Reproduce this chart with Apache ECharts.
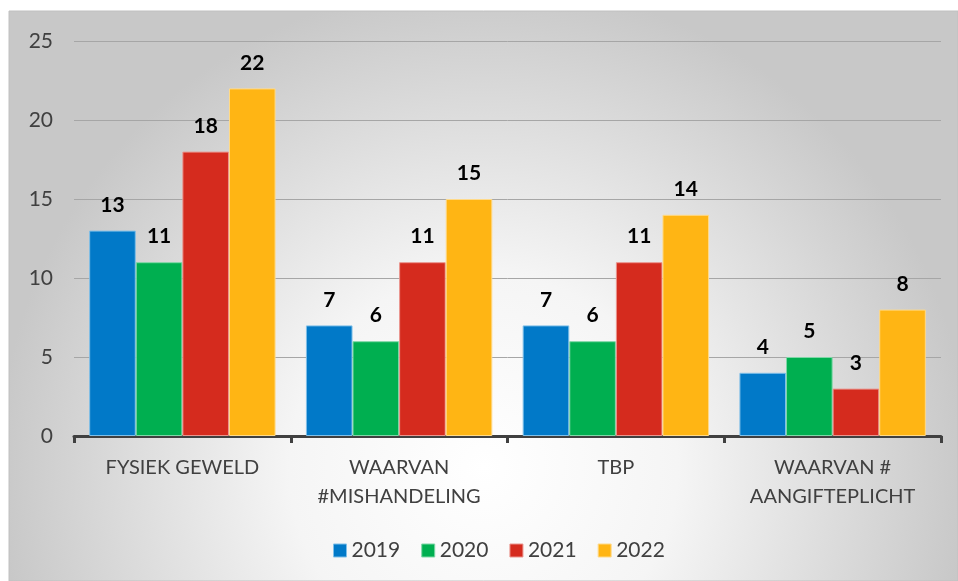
<!DOCTYPE html>
<html>
<head>
<meta charset="utf-8">
<script src="https://cdn.jsdelivr.net/npm/echarts@6/dist/echarts.min.js"></script>
<style>
html,body{margin:0;padding:0;background:#fff;}
#c{width:958px;height:581px;}
</style>
</head>
<body>
<div id="c"></div>
<script>
const categories = ['FYSIEK GEWELD', 'WAARVAN\n#MISHANDELING', 'TBP', 'WAARVAN #\nAANGIFTEPLICHT'];
const years = ['2019', '2020', '2021', '2022'];
const v2019 = [13, 7, 7, 4];
const v2020 = [11, 6, 6, 5];
const v2021 = [18, 11, 11, 3];
const v2022 = [22, 15, 14, 8];
const yTicks = [0, 5, 10, 15, 20, 25];

const colors = ['#0179C8', '#00AF50', '#D52B1E', '#FFB514'];
const borders = ['#7fbfe8', '#7fd7a7', '#ea958e', '#ffda89'];
const seriesData = [v2019, v2020, v2021, v2022];
const FONT = 'Lato, "Open Sans", sans-serif';

const chart = echarts.init(document.getElementById('c'), null, {renderer: 'canvas'});
chart.setOption({
  animation: false,
  textStyle: {fontFamily: FONT},
  graphic: [{
    type: 'rect', z: -10, silent: true,
    shape: {x: 9, y: 11, width: 949, height: 570},
    style: {
      fill: {
        type: 'radial', x: 0.5, y: 0.8, r: 0.85,
        colorStops: [{offset: 0, color: '#ffffff'}, {offset: 0.4, color: '#f5f5f5'}, {offset: 1, color: '#c8c8c8'}]
      },
      stroke: '#c0c0c0', lineWidth: 1
    }
  }],
  legend: {
    data: years.map((y, i) => ({name: y, itemStyle: {borderColor: borders[i], borderWidth: 1}})),
    bottom: 15,
    left: 328,
    itemWidth: 13, itemHeight: 13, itemGap: 21,
    icon: 'rect',
    textStyle: {fontSize: 21, color: '#404040', fontFamily: FONT}
  },
  grid: {left: 74, right: 17, top: 41, bottom: 145, containLabel: false},
  xAxis: {
    type: 'category',
    data: categories,
    axisLine: {lineStyle: {color: '#404040', width: 3}},
    axisTick: {show: true, length: 7, lineStyle: {color: '#404040', width: 3}},
    axisLabel: {fontSize: 20, color: '#404040', margin: 17, lineHeight: 29, fontFamily: FONT}
  },
  yAxis: {
    type: 'value',
    min: yTicks[0], max: yTicks[yTicks.length - 1], interval: 5,
    axisLine: {show: false},
    axisTick: {show: false},
    splitLine: {lineStyle: {color: '#a6a6a6', width: 1}},
    axisLabel: {fontSize: 21, color: '#404040', margin: 21, fontFamily: FONT}
  },
  series: years.map((y, i) => ({
    name: y,
    type: 'bar',
    data: seriesData[i],
    barGap: '0%',
    barCategoryGap: '14%',
    itemStyle: {color: colors[i], borderColor: borders[i], borderWidth: 1},
    label: {
      show: true, position: 'top', distance: 15,
      fontSize: 21, fontWeight: 'bold', color: '#000', fontFamily: FONT
    }
  }))
});
</script>
</body>
</html>
